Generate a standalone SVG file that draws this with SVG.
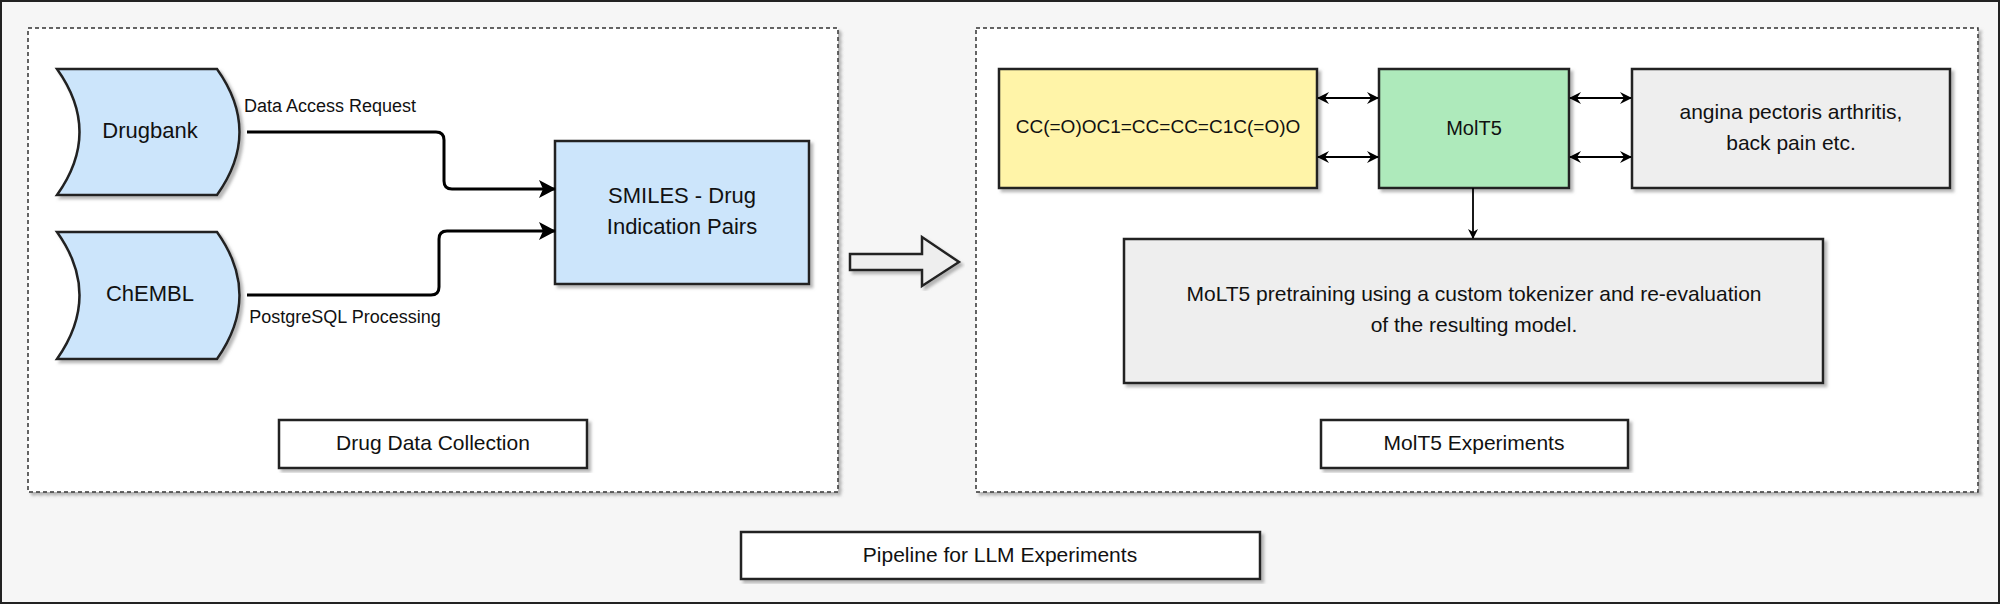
<svg xmlns="http://www.w3.org/2000/svg" width="2000" height="604" viewBox="0 0 2000 604">
<defs>
<style>
text{font-family:"Liberation Sans",Arial,sans-serif;fill:#111;text-anchor:middle;dominant-baseline:middle}
.node{stroke:#222;stroke-width:2.5;filter:url(#sh)}
.dash{fill:#fff;stroke:#333;stroke-width:1.5;stroke-dasharray:4 3;filter:url(#sh)}
.c{fill:none;stroke:#000;stroke-width:3}
.t{fill:none;stroke:#000;stroke-width:1.8}
</style>
<filter id="sh" x="-5%" y="-5%" width="110%" height="115%"><feDropShadow dx="3" dy="3" stdDeviation="1.5" flood-color="#888" flood-opacity="0.6"/></filter>
<marker id="ah" markerWidth="10" markerHeight="10" refX="9" refY="5" orient="auto" markerUnits="userSpaceOnUse"><path d="M0,0 L10,5 L0,10 L3,5 Z" fill="#000"/></marker>
<marker id="as" markerWidth="12" markerHeight="12" refX="11" refY="6" orient="auto-start-reverse" markerUnits="userSpaceOnUse"><path d="M0,0 L12,6 L0,12 L4,6 Z" fill="#000"/></marker>
<marker id="ab" markerWidth="18" markerHeight="18" refX="16" refY="9" orient="auto" markerUnits="userSpaceOnUse"><path d="M0,0 L17,9 L0,18 L4,9 Z" fill="#000"/></marker>
</defs>
<rect x="1" y="1" width="1998" height="602" fill="#f6f6f6" stroke="#222" stroke-width="2"/>
<g id="left-container"><rect class="dash" x="28" y="28" width="810" height="464"/></g>
<g id="right-container"><rect class="dash" x="976" y="28" width="1002" height="464"/></g>
<g id="drugbank"><path class="node" fill="#cce5fb" d="M57,69 L217,69 Q262,132 217,195 L57,195 Q102,132 57,69 Z"/><text x="150" y="132" font-size="22">Drugbank</text></g>
<g id="chembl"><path class="node" fill="#cce5fb" d="M57,232 L217,232 Q262,295 217,359 L57,359 Q102,295 57,232 Z"/><text x="150" y="295" font-size="22">ChEMBL</text></g>
<g id="smiles"><rect class="node" fill="#cce5fb" x="555" y="141" width="254" height="143"/><text x="682" y="197" font-size="22">SMILES - Drug</text><text x="682" y="228" font-size="22">Indication Pairs</text></g>
<g id="ddc"><rect class="node" fill="#fff" x="279" y="420" width="308" height="48"/><text x="433" y="444" font-size="21">Drug Data Collection</text></g>
<g id="hollow-arrow"><path class="node" fill="#eee" stroke-width="2" d="M850,254 L922,254 L922,237 L959,262 L922,286 L922,270 L850,270 Z"/></g>
<g id="smiles-example"><rect class="node" fill="#fff4a8" x="999" y="69" width="318" height="119"/><text x="1158" y="128" font-size="19">CC(=O)OC1=CC=CC=C1C(=O)O</text></g>
<g id="molt5"><rect class="node" fill="#aeeabb" x="1379" y="69" width="190" height="119"/><text x="1474" y="130" font-size="20">MolT5</text></g>
<g id="indications"><rect class="node" fill="#eeeeee" x="1632" y="69" width="318" height="119"/><text x="1791" y="113" font-size="21">angina pectoris arthritis,</text><text x="1791" y="144" font-size="21">back pain etc.</text></g>
<g id="pretrain"><rect class="node" fill="#eeeeee" x="1124" y="239" width="699" height="144"/><text x="1474" y="295" font-size="21">MoLT5 pretraining using a custom tokenizer and re-evaluation</text><text x="1474" y="326" font-size="21">of the resulting model.</text></g>
<g id="mexp"><rect class="node" fill="#fff" x="1321" y="420" width="307" height="48"/><text x="1474" y="444" font-size="21">MolT5 Experiments</text></g>
<g id="pipeline"><rect class="node" fill="#fff" x="741" y="532" width="519" height="47"/><text x="1000" y="556" font-size="21">Pipeline for LLM Experiments</text></g>
<g id="connectors">
<path class="c" marker-end="url(#ab)" d="M247,132 L436,132 Q444,132 444,140 L444,181 Q444,189 452,189 L555,189"/>
<path class="c" marker-end="url(#ab)" d="M247,295 L431,295 Q439,295 439,287 L439,239 Q439,231 447,231 L555,231"/>
<path class="t" marker-start="url(#as)" marker-end="url(#as)" d="M1318,98 L1378,98"/>
<path class="t" marker-start="url(#as)" marker-end="url(#as)" d="M1318,157 L1378,157"/>
<path class="t" marker-start="url(#as)" marker-end="url(#as)" d="M1570,98 L1631,98"/>
<path class="t" marker-start="url(#as)" marker-end="url(#as)" d="M1570,157 L1631,157"/>
<path class="t" marker-end="url(#ah)" d="M1473,188 L1473,238"/>
<text x="330" y="107" font-size="18">Data Access Request</text>
<text x="345" y="318" font-size="18">PostgreSQL Processing</text>
</g>
</svg>
